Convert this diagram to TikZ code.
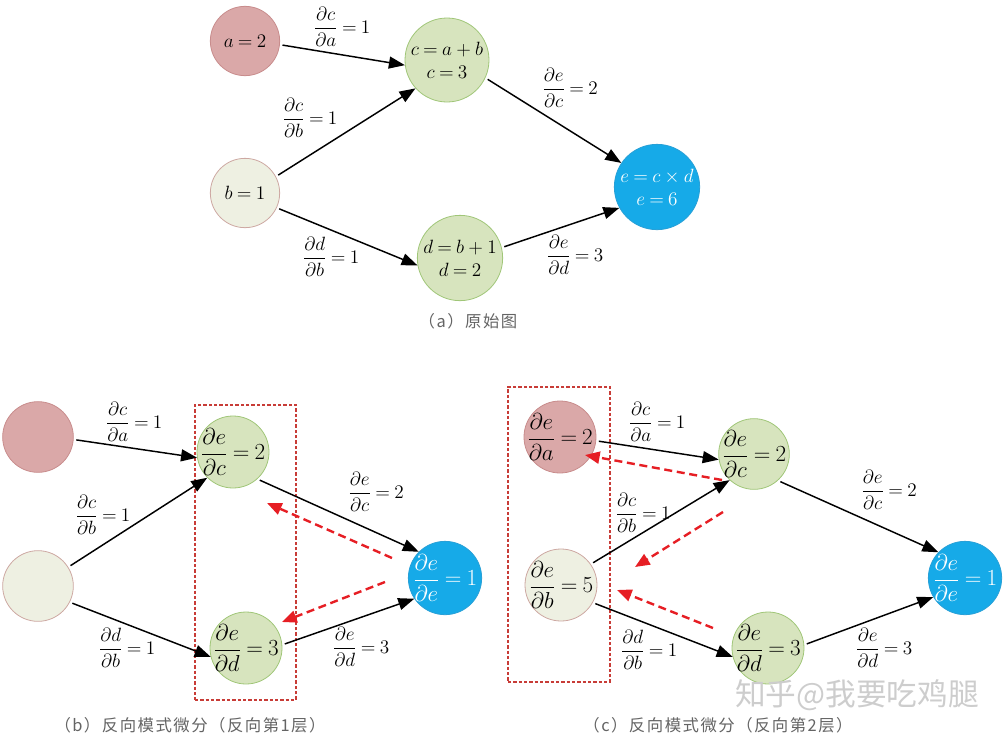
\documentclass[tikz,border=0pt]{standalone}
\usepackage{amsmath}
\usepackage{fontspec}
\newfontfamily\cjk[LetterSpace=9]{Noto Sans CJK SC}
\newfontfamily\cjkmark{Noto Sans CJK SC}
\usetikzlibrary{arrows.meta}

\definecolor{pinkfill}{RGB}{218,168,168}
\definecolor{pinkline}{RGB}{200,140,140}
\definecolor{greenfill}{RGB}{215,228,190}
\definecolor{greenline}{RGB}{160,198,120}
\definecolor{beigefill}{RGB}{238,240,226}
\definecolor{beigeline}{RGB}{205,168,162}
\definecolor{bluefill}{RGB}{22,170,232}
\definecolor{blueline}{RGB}{40,160,215}
\definecolor{backred}{RGB}{230,30,36}
\definecolor{framered}{RGB}{200,60,55}
\definecolor{capgray}{RGB}{100,100,100}
\definecolor{markgray}{RGB}{205,205,205}

\thickmuskip=4mu plus 2mu

\begin{document}
\begin{tikzpicture}[x=0.75pt,y=-0.75pt,
  font=\fontsize{15}{17}\selectfont,
  vtx/.style={circle, line width=0.6pt, minimum size=54pt, inner sep=0pt},
  pinkv/.style={vtx, fill=pinkfill, draw=pinkline},
  greenv/.style={vtx, fill=greenfill, draw=greenline},
  beigev/.style={vtx, fill=beigefill, draw=beigeline},
  bluev/.style={vtx, fill=bluefill, draw=blueline},
  intext/.style={label={[font=\fontsize{16}{18}\selectfont, align=center, inner sep=0pt]center:{#1}}},
  inwhite/.style={label={[font=\fontsize{16}{18}\selectfont, align=center, inner sep=0pt, text=white]center:{#1}}},
  toptext/.style={label={[font=\fontsize{14}{17}\selectfont, align=center, inner sep=0pt]center:{#1}}},
  topwhite/.style={label={[font=\fontsize{14}{17}\selectfont, align=center, inner sep=0pt, text=white]center:{#1}}},
  flow/.style={-{Triangle[length=12pt,width=9pt]}, line width=1.1pt, black, shorten <=2pt},
  back/.style={-{Triangle[length=11pt,width=9pt]}, line width=1.8pt, backred, dash pattern=on 6pt off 3.5pt},
  frame/.style={draw=framered, line width=0.8pt, dash pattern=on 2.5pt off 1.5pt},
  lbl/.style={inner sep=0pt},
  captxt/.style={font=\cjk\fontsize{12.3}{14}\selectfont, text=capgray, inner sep=0pt},
  wmark/.style={font=\cjkmark\fontsize{23}{26}\selectfont, text=markgray, inner sep=0pt}
]
\useasboundingbox (0,0) rectangle (1006,736);

% ---------- (a) forward graph ----------
\node[pinkv, minimum size=52pt, toptext={$a=2$}] (a1) at (245,41) {};
\node[greenv, minimum size=63pt, toptext={$c=a+b$\\$c=3$}] (c1) at (447,60) {};
\node[beigev, minimum size=52pt, toptext={$b=1$}] (b1) at (245,193) {};
\node[greenv, minimum size=64pt, toptext={$d=b+1$\\$d=2$}] (d1) at (460,258) {};
\node[bluev, minimum size=64pt, topwhite={$e=c\times d$\\$e=6$}] (e1) at (657,187) {};

\draw[flow] (a1.-6) -- (c1.187);
\draw[flow] (b1.28) -- (c1.222);
\draw[flow] (c1.-25) -- (e1.146);
\draw[flow] (b1.-25) -- (d1.190);
\draw[flow] (d1.14) -- (e1.209);

\node[lbl] (la1) at (342,27) {$\dfrac{\partial c}{\partial a}=1$};
\node[lbl] (la2) at (310,118) {$\dfrac{\partial c}{\partial b}=1$};
\node[lbl] (la3) at (570,88) {$\dfrac{\partial e}{\partial c}=2$};
\node[lbl] (la4) at (331,257) {$\dfrac{\partial d}{\partial b}=1$};
\node[lbl] (la5) at (575,255) {$\dfrac{\partial e}{\partial d}=3$};

\node[captxt] (capa) at (468,321) {（a）原始图};

% ---------- (b) reverse mode, first layer ----------
\node[frame, minimum width=75.75pt, minimum height=221.25pt, inner sep=0pt] (fb) at (245.5,552.5) {};
\node[pinkv, minimum size=53pt] (a2) at (38,437) {};
\node[greenv, intext={$\dfrac{\partial e}{\partial c}=2$}] (c2) at (233,452) {};
\node[beigev, minimum size=53pt] (b2) at (38,586) {};
\node[greenv, intext={$\dfrac{\partial e}{\partial d}=3$}] (d2) at (246,648) {};
\node[bluev, minimum size=55pt, inwhite={$\dfrac{\partial e}{\partial e}=1$}] (e2) at (445,578) {};

\draw[flow] (a2.-4) -- (c2.189);
\draw[flow] (b2.32) -- (c2.225);
\draw[flow] (c2.-48) -- (e2.135);
\draw[flow] (b2.-27) -- (d2.194);
\draw[flow] (d2.5) -- (e2.214);

\coordinate (rb1s) at (392,558);
\coordinate (rb1t) at (267,503);
\coordinate (rb2s) at (385,582);
\coordinate (rb2t) at (282,622);
\draw[back] (rb1s) -- (rb1t);
\draw[back] (rb2s) -- (rb2t);

\node[lbl] (lb1) at (134,422) {$\dfrac{\partial c}{\partial a}=1$};
\node[lbl] (lb2) at (103,515) {$\dfrac{\partial c}{\partial b}=1$};
\node[lbl] (lb3) at (376,492) {$\dfrac{\partial e}{\partial c}=2$};
\node[lbl] (lb4) at (127,648) {$\dfrac{\partial d}{\partial b}=1$};
\node[lbl] (lb5) at (361,647) {$\dfrac{\partial e}{\partial d}=3$};

\node[captxt] (capb) at (190,725) {（b）反向模式微分（反向第1层）};

% ---------- (c) reverse mode, second layer ----------
\node[frame, minimum width=76.5pt, minimum height=221.25pt, inner sep=0pt] (fc) at (559,534.5) {};
\node[pinkv, intext={$\dfrac{\partial e}{\partial a}=2$}] (a3) at (560,437) {};
\node[greenv, minimum size=53pt, intext={$\dfrac{\partial e}{\partial c}=2$}] (c3) at (754,454) {};
\node[beigev, intext={$\dfrac{\partial e}{\partial b}=5$}] (b3) at (561,585) {};
\node[greenv, intext={$\dfrac{\partial e}{\partial d}=3$}] (d3) at (768,648) {};
\node[bluev, minimum size=55pt, inwhite={$\dfrac{\partial e}{\partial e}=1$}] (e3) at (965,578) {};

\draw[flow] (a3.-6) -- (c3.189);
\draw[flow] (b3.35) -- (c3.227);
\draw[flow] (c3.-48) -- (e3.136);
\draw[flow] (b3.-29) -- (d3.194);
\draw[flow] (d3.5) -- (e3.211);

\coordinate (rc1s) at (722,480);
\coordinate (rc1t) at (585,455);
\coordinate (rc2s) at (723,512);
\coordinate (rc2t) at (635,567);
\coordinate (rc3s) at (713,628);
\coordinate (rc3t) at (617,590);
\draw[back] (rc1s) -- (rc1t);
\draw[back] (rc2s) -- (rc2t);
\draw[back] (rc3s) -- (rc3t);

\node[lbl] (lc1) at (657,422) {$\dfrac{\partial c}{\partial a}=1$};
\node[lbl] (lc2) at (643,513) {$\dfrac{\partial c}{\partial b}=1$};
\node[lbl] (lc3) at (889,490) {$\dfrac{\partial e}{\partial c}=2$};
\node[lbl] (lc4) at (649,650) {$\dfrac{\partial d}{\partial b}=1$};
\node[lbl] (lc5) at (884,648) {$\dfrac{\partial e}{\partial d}=3$};

\node[wmark] (wm) at (857,695) {知乎@我要吃鸡腿};
\node[captxt] (capc) at (718,725) {（c）反向模式微分（反向第2层）};
\end{tikzpicture}
\end{document}
